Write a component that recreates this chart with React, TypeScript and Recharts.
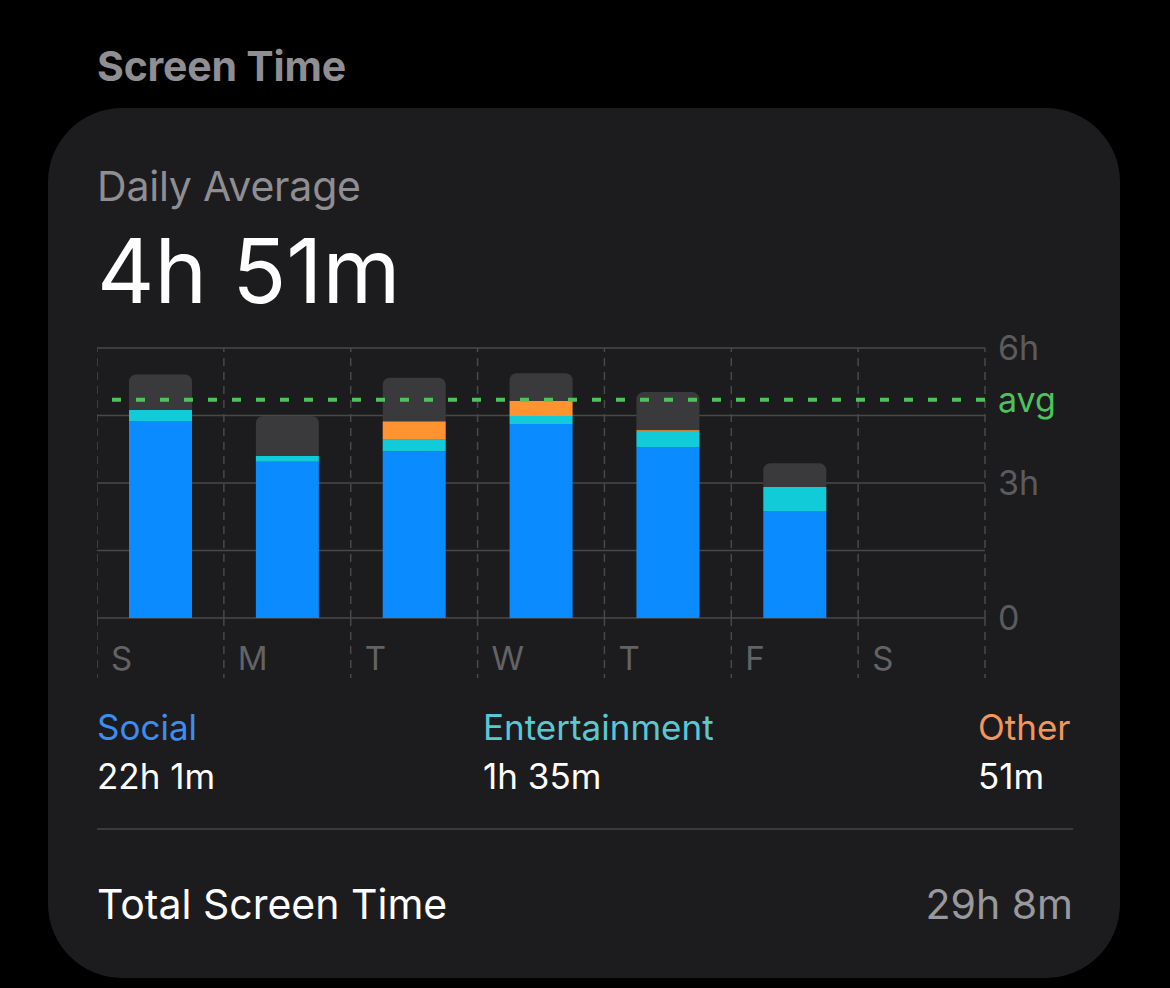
import React from 'react';
import { BarChart, Bar, XAxis, YAxis, CartesianGrid, ReferenceLine } from 'recharts';

// hours per day
const days = ['Sun', 'Mon', 'Tue', 'Wed', 'Thu', 'Fri', 'Sat'];
const dayLabels = ['S', 'M', 'T', 'W', 'T', 'F', 'S'];
const social = [4.38, 3.47, 3.7, 4.31, 3.79, 2.38, 0];
const entertainment = [0.24, 0.13, 0.26, 0.18, 0.37, 0.53, 0];
const other = [0, 0, 0.41, 0.34, 0.02, 0, 0];
const uncategorized = [0.79, 0.89, 0.97, 0.61, 0.84, 0.53, 0];

const yTicks = [0, 1.5, 3, 4.5, 6];
const yTickLabels: Record<number, string> = { 0: '0', 3: '3h', 6: '6h' };
const dailyAverage = 4 + 51 / 60;

const categoryNames = ['Social', 'Entertainment', 'Other'];
const categoryTotals = ['22h 1m', '1h 35m', '51m'];
const categoryColors = ['#3b8ef0', '#5ac8d4', '#f2965a'];

const FONT = 'Inter, "Noto Sans", sans-serif';
const GRID = '#48484a';
const BLUE = '#0a8bff';
const CYAN = '#12cbd9';
const ORANGE = '#ff9330';
const REST = '#3a3a3c';
const GREEN = '#4cc35c';

const PLOT_W = 888;
const AXIS_W = 100;
const BAND = PLOT_W / days.length;

const data = days.map((day, i) => ({
  day,
  social: social[i] || null,
  entertainment: entertainment[i] || null,
  other: other[i] || null,
  rest: uncategorized[i] || null,
}));

const DayTick = (props: any) => {
  const { x, y, index } = props;
  const left = x - BAND / 2;
  return (
    <g>
      <line x1={left} x2={left} y1={y} y2={y + 60} stroke={GRID} strokeWidth={1.5} strokeDasharray="8 6" />
      {index === days.length - 1 && (
        <line x1={x + BAND / 2} x2={x + BAND / 2} y1={y} y2={y + 60} stroke={GRID} strokeWidth={1.5} strokeDasharray="8 6" />
      )}
      <text x={left + 14} y={y + 52} fill="#636366" fontSize={33} fontFamily={FONT}>
        {dayLabels[index]}
      </text>
    </g>
  );
};

const HourTick = (props: any) => {
  const { x, y, payload } = props;
  return (
    <text x={x} y={y} dy="0.36em" textAnchor="start" fill="#5b5b5f" fontSize={34} fontFamily={FONT}>
      {yTickLabels[payload.value] ?? ''}
    </text>
  );
};

const txt = (fs: number, capTop: number): React.CSSProperties => ({
  position: 'absolute',
  top: capTop - 0.137 * fs,
  fontSize: fs,
  lineHeight: 1,
  fontFamily: FONT,
  whiteSpace: 'nowrap',
});

export default function App() {
  return (
    <div style={{ position: 'absolute', left: 0, top: 0, width: 1170, height: 988, background: '#000', overflow: 'hidden' }}>
      <div style={{ ...txt(41, 52), left: 97, fontWeight: 700, color: '#8e8e93', letterSpacing: -0.2 }}>Screen Time</div>

      <div
        style={{
          position: 'absolute',
          left: 48,
          top: 108,
          width: 1072,
          height: 870,
          borderRadius: 74,
          background: '#1c1c1e',
        }}
      />

      <div style={{ ...txt(41, 172), left: 97, color: '#8e8e93', letterSpacing: -0.2 }}>Daily Average</div>
      <div style={{ ...txt(89, 238), left: 97, color: '#fff' }}>4h 51m</div>

      <div style={{ position: 'absolute', left: 97, top: 308 }}>
        <BarChart
          width={PLOT_W + AXIS_W}
          height={372}
          data={data}
          margin={{ top: 40, right: 0, bottom: 0, left: 0 }}
          barSize={63}
        >
          <CartesianGrid vertical={false} stroke={GRID} strokeWidth={1.5} />
          {days.map((d) => (
            <ReferenceLine key={d} x={d} position="start" stroke={GRID} strokeWidth={1.5} strokeDasharray="8 6" />
          ))}
          <ReferenceLine x={days[days.length - 1]} position="end" stroke={GRID} strokeWidth={1.5} strokeDasharray="8 6" />
          <XAxis
            dataKey="day"
            height={62}
            axisLine={false}
            tickLine={false}
            tickSize={0}
            tickMargin={0}
            interval={0}
            tick={<DayTick />}
          />
          <YAxis
            orientation="right"
            width={AXIS_W}
            domain={[0, 6]}
            ticks={yTicks}
            axisLine={false}
            tickLine={false}
            tickSize={0}
            tickMargin={13}
            tick={<HourTick />}
          />
          <Bar dataKey="social" stackId="a" fill={BLUE} isAnimationActive={false} />
          <Bar dataKey="entertainment" stackId="a" fill={CYAN} isAnimationActive={false} />
          <Bar dataKey="other" stackId="a" fill={ORANGE} isAnimationActive={false} />
          <Bar dataKey="rest" stackId="a" fill={REST} radius={[7, 7, 0, 0]} isAnimationActive={false} />
          <ReferenceLine
            y={dailyAverage}
            stroke={GREEN}
            strokeWidth={4}
            strokeDasharray="9 15"
            label={{ value: 'avg', position: 'right', offset: 13, fill: GREEN, fontSize: 34, fontFamily: FONT }}
          />
        </BarChart>
      </div>

      {categoryNames.map((name, i) => {
        const left = [97, 483, 978][i];
        return (
          <React.Fragment key={name}>
            <div style={{ ...txt(35, 715), left, color: categoryColors[i] }}>{name}</div>
            <div style={{ ...txt(35, 764), left, color: '#fff' }}>{categoryTotals[i]}</div>
          </React.Fragment>
        );
      })}

      <div style={{ position: 'absolute', left: 97, top: 828, width: 976, height: 2, background: '#3a3a3c' }} />

      <div style={{ ...txt(41, 890), left: 97, color: '#fff' }}>Total Screen Time</div>
      <div style={{ ...txt(41, 890), right: 1170 - 1073, color: '#98989d' }}>29h 8m</div>
    </div>
  );
}
